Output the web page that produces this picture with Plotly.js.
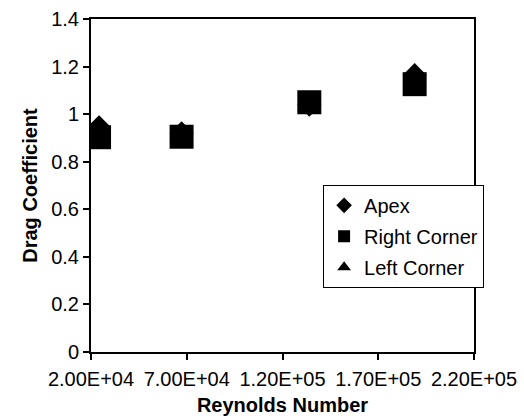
<!DOCTYPE html>
<html>
<head>
<meta charset="utf-8">
<script src="https://cdn.plot.ly/plotly-3.0.1.min.js"></script>
<style>html,body{margin:0;padding:0;background:#fff;}#chart{width:524px;height:418px;}</style>
</head>
<body>
<div id="chart"></div>
<script>
const reynolds = [24200, 67300, 134000, 189000];
const apex = [0.945, 0.92, 1.04, 1.164];
const rightCorner = [0.903, 0.905, 1.05, 1.126];
const leftCorner = [0.91, 0.90, 1.04, 1.13];
const xTickVals = [20000, 70000, 120000, 170000, 220000];
const xTickText = ["2.00E+04", "7.00E+04", "1.20E+05", "1.70E+05", "2.20E+05"];

const font = "Liberation Sans, Arial, sans-serif";
const traces = [
  {name: "Apex", x: reynolds, y: apex, symbol: "diamond", size: 18.5},
  {name: "Right Corner", x: reynolds, y: rightCorner, symbol: "square", size: 24},
  {name: "Left Corner", x: reynolds, y: leftCorner, symbol: "triangle-up", size: 20}
].map((t, i) => ({
  type: "scatter", mode: "markers", name: t.name, x: t.x, y: t.y,
  legendgroup: "g" + i,
  marker: {symbol: t.symbol, size: t.size, color: "#000", line: {width: 0}}
}));

const layout = {
  width: 524, height: 418,
  margin: {l: 91, r: 50, t: 19, b: 66},
  paper_bgcolor: "#fff", plot_bgcolor: "#fff",
  font: {family: font, size: 20, color: "#000"},
  showlegend: true,
  legend: {
    x: 0.606, y: 0.502, xanchor: "left", yanchor: "top",
    bgcolor: "#fff", bordercolor: "#000", borderwidth: 1,
    font: {family: font, size: 20, color: "#000"},
    itemsizing: "constant", traceorder: "grouped", tracegroupgap: 2
  },
  xaxis: {
    range: [20000, 220000],
    tickmode: "array", tickvals: xTickVals, ticktext: xTickText,
    showgrid: false, zeroline: false,
    showline: true, linecolor: "#000", linewidth: 2, mirror: true,
    ticks: "outside", ticklen: 6, tickwidth: 2, tickcolor: "#000",
    ticklabelstandoff: 2,
    tickfont: {family: font, size: 20, color: "#000"},
    title: {text: "<b>Reynolds Number</b>", font: {family: font, size: 20, color: "#000"}, standoff: 9}
  },
  yaxis: {
    range: [0, 1.4], dtick: 0.2, tick0: 0,
    showgrid: false, zeroline: false,
    showline: true, linecolor: "#000", linewidth: 2, mirror: true,
    ticks: "outside", ticklen: 6, tickwidth: 2, tickcolor: "#000",
    tickfont: {family: font, size: 20, color: "#000"},
    title: {text: "<b>Drag Coefficient</b>", font: {family: font, size: 20, color: "#000"}, standoff: 8}
  }
};

Plotly.newPlot("chart", traces, layout, {staticPlot: true, displayModeBar: false});
</script>
</body>
</html>
